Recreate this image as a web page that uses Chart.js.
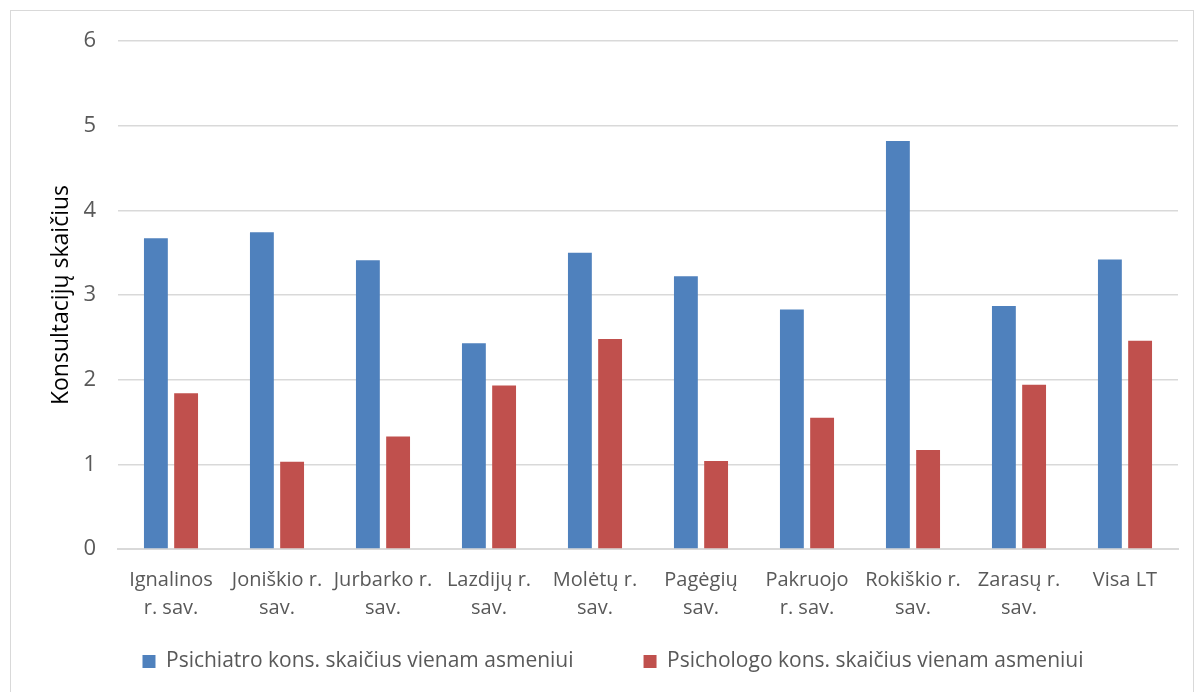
<!DOCTYPE html>
<html>
<head>
<meta charset="utf-8">
<script src="https://cdn.jsdelivr.net/npm/chart.js@4/dist/chart.umd.min.js"></script>
<style>
  body { margin: 0; background: #fff; }
  #wrap { position: relative; width: 1204px; height: 692px; }
  #frame { position: absolute; left: 10px; top: 10px; width: 1184px; height: 690px; border: 1px solid #d9d9d9; box-sizing: border-box; }
</style>
</head>
<body>
<div id="wrap">
  <div id="frame"></div>
  <canvas id="chart" width="1204" height="692"></canvas>
</div>
<script>
const categories = [
  ['Ignalinos', 'r. sav.'],
  ['Joniškio r.', 'sav.'],
  ['Jurbarko r.', 'sav.'],
  ['Lazdijų r.', 'sav.'],
  ['Molėtų r.', 'sav.'],
  ['Pagėgių', 'sav.'],
  ['Pakruojo', 'r. sav.'],
  ['Rokiškio r.', 'sav.'],
  ['Zarasų r.', 'sav.'],
  ['Visa LT']
];
const psichiatro = [3.67, 3.74, 3.41, 2.43, 3.50, 3.22, 2.83, 4.82, 2.87, 3.42];
const psichologo = [1.84, 1.03, 1.33, 1.93, 2.48, 1.04, 1.55, 1.17, 1.94, 2.46];
const seriesNames = ['Psichiatro kons. skaičius vienam asmeniui', 'Psichologo kons. skaičius vienam asmeniui'];

const FONT = "'Open Sans', sans-serif";

const ctx = document.getElementById('chart').getContext('2d');
const chart = new Chart(ctx, {
  type: 'bar',
  data: {
    labels: categories,
    datasets: [{
      label: seriesNames[0],
      data: psichiatro,
      backgroundColor: '#4f81bd'
    }, {
      label: seriesNames[1],
      data: psichologo,
      backgroundColor: '#c0504d'
    }]
  },
  options: {
    responsive: false,
    animation: false,
    layout: { padding: { left: 48, right: 26, top: 41, bottom: 10 } },
    datasets: {
      bar: { categoryPercentage: 0.57, barPercentage: 0.79 }
    },
    scales: {
      x: {
        grid: { display: false },
        border: { color: '#d9d9d9', width: 2 },
        ticks: { color: '#595959', padding: 9, font: { family: FONT, size: 20, lineHeight: 1.4 }, maxRotation: 0, autoSkip: false },
        afterFit: function(scale) { scale.height = 74; }
      },
      y: {
        min: 0,
        max: 6,
        ticks: { stepSize: 1, color: '#595959', padding: 22, font: { family: FONT, size: 22 } },
        grid: { color: '#d9d9d9', lineWidth: 1.5, drawTicks: false },
        border: { display: false },
        title: { display: true, text: 'Konsultacijų skaičius', color: '#000', font: { family: FONT, size: 23 }, padding: 0 },
        afterFit: function(scale) { scale.width = 70; }
      }
    },
    plugins: {
      legend: {
        position: 'bottom',
        labels: {
          color: '#595959', boxWidth: 13, boxHeight: 13, padding: 28, font: { family: FONT, size: 21 },
          generateLabels: function(c) {
            // extra trailing spaces widen the gap between the two items
            const items = Chart.defaults.plugins.legend.labels.generateLabels(c);
            items[0].text = items[0].text + '\u2003\u2003';
            return items;
          }
        }
      },
      tooltip: { enabled: false }
    }
  }
});
</script>
</body>
</html>
